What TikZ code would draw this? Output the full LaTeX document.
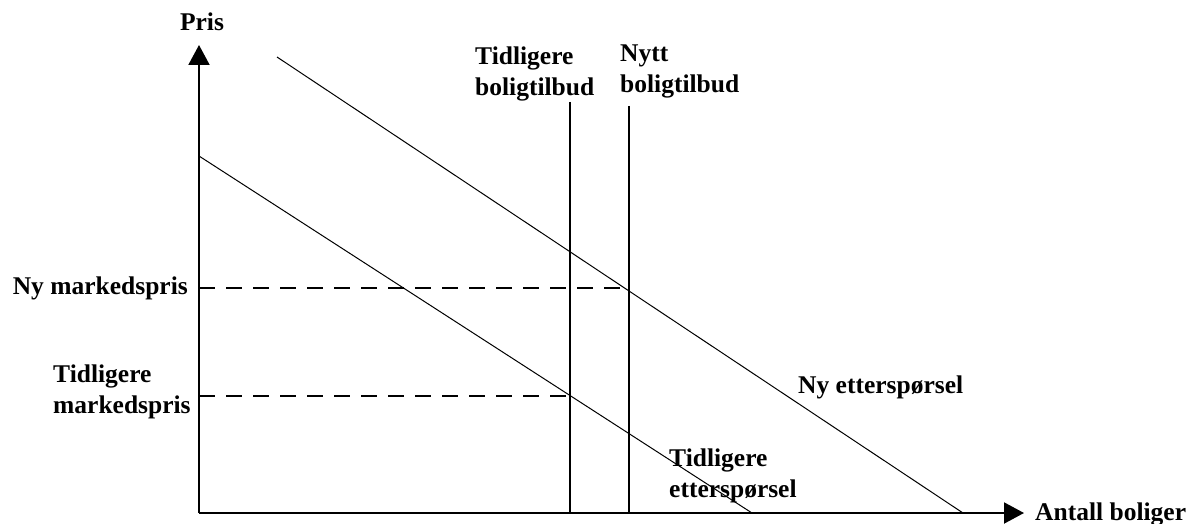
\documentclass[tikz,border=0pt]{standalone}
\usepackage{fontspec}
\setmainfont{Liberation Serif}
\usetikzlibrary{arrows.meta}

\begin{document}
        \begin{tikzpicture}[x=1pt, y=-1pt,
            txt/.style={font=\bfseries\fontsize{25.5}{31}\selectfont, inner sep=0pt, align=left},
            axis/.style={line width=2pt, -{Triangle[width=21pt,length=20pt]}},
            curve/.style={line width=1pt},
            supply/.style={line width=1.6pt},
            price/.style={line width=1.4pt, dash pattern=on 16pt off 11pt}]
            \useasboundingbox (0,0) rectangle (1194,524);

            \coordinate (O) at (199, 513);
            \coordinate (yTop) at (199, 45);
            \coordinate (xEnd) at (1024, 513);

            \coordinate (dOldA) at (199, 156);
            \coordinate (dOldB) at (752, 513);
            \coordinate (dNewA) at (277, 57);
            \coordinate (dNewB) at (963, 513);

            \coordinate (sOldTop) at (570, 102);
            \coordinate (sOldBot) at (570, 513);
            \coordinate (sNewTop) at (629, 106);
            \coordinate (sNewBot) at (629, 513);

            \coordinate (pOld) at (199, 396);
            \coordinate (eqOld) at (570, 396);
            \coordinate (pNew) at (199, 288);
            \coordinate (eqNew) at (629, 288);

            \node[txt, anchor=base] (pris) at (202, 31) {Pris};
            \node[txt, anchor=base west] (antall) at (1035, 520) {Antall boliger};

            \node[txt, anchor=north west] (sOldLbl) at (475, 47) {Tidligere\\boligtilbud};
            \node[txt, anchor=north west] (sNewLbl) at (620, 45) {Nytt\\boligtilbud};

            \node[txt, anchor=base east] (pNewLbl) at (188, 294) {Ny markedspris};
            \node[txt, anchor=north west] (pOldLbl) at (53, 365) {Tidligere\\markedspris};

            \node[txt, anchor=north west] (dOldLbl) at (669, 449) {Tidligere\\etterspørsel};
            \node[txt, anchor=base west] (dNewLbl) at (798, 393) {Ny etterspørsel};

            \draw[price](pNew) -- (eqNew);
            \draw[price](pOld) -- (eqOld);

            \draw[supply](sOldTop) -- (sOldBot);
            \draw[supply](sNewTop) -- (sNewBot);

            \draw[curve](dOldA) -- (dOldB);
            \draw[curve](dNewA) -- (dNewB);

            \draw[axis](O) -- (yTop);
            \draw[axis](O) -- (xEnd);
        \end{tikzpicture}
\end{document}
